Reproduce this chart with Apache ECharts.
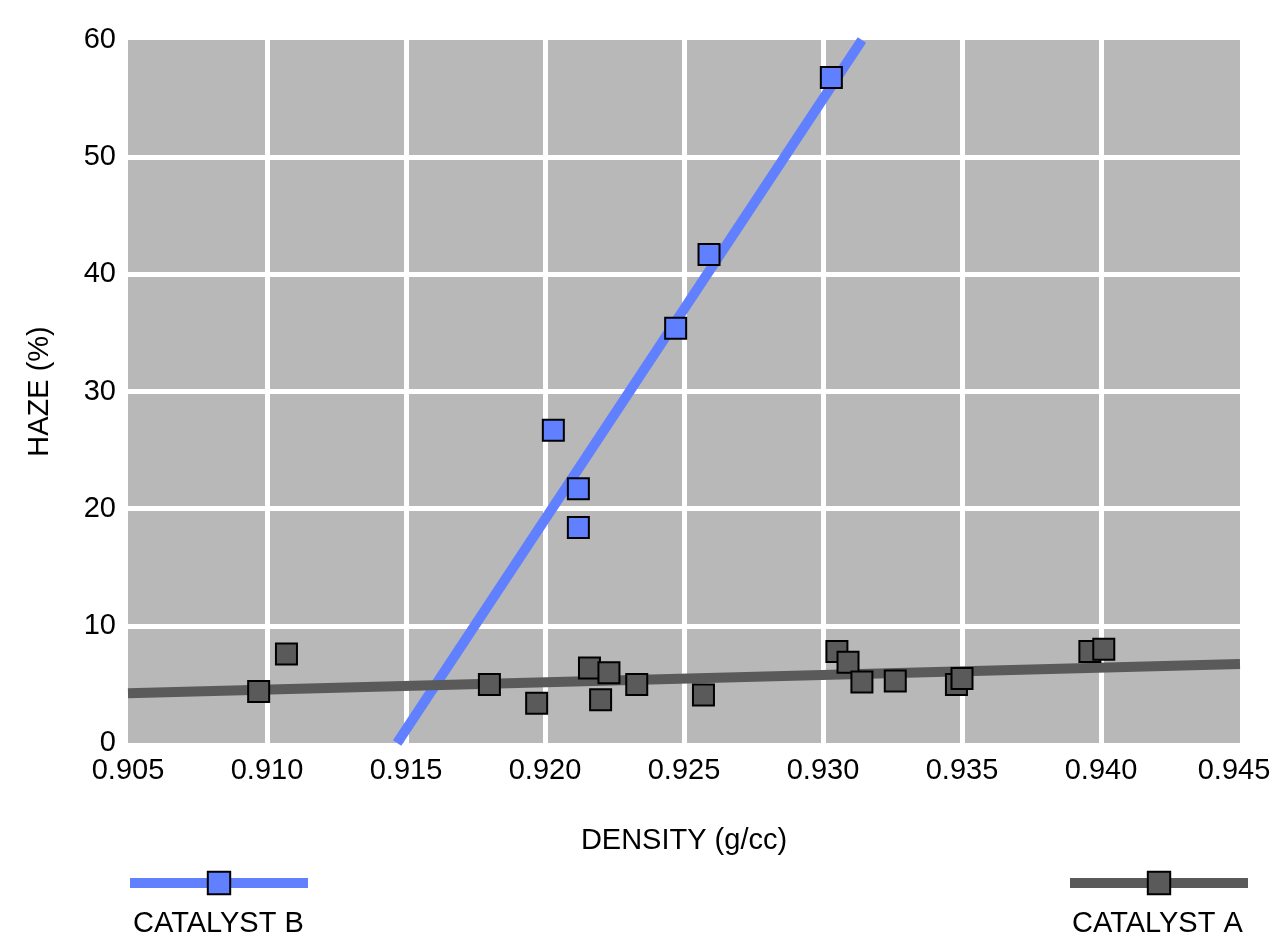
<!DOCTYPE html>
<html>
<head>
<meta charset="utf-8">
<script src="https://cdn.jsdelivr.net/npm/echarts@6/dist/echarts.min.js"></script>
<style>
html,body{margin:0;padding:0;background:#fff;}
#chart{width:1272px;height:938px;}
</style>
</head>
<body>
<div id="chart"></div>
<script>
// Catalyst B measured points [density, haze]
var catalystBDensity = [0.9203, 0.9212, 0.9212, 0.9247, 0.9259, 0.9303];
var catalystBHaze    = [26.7, 21.7, 18.4, 35.4, 41.7, 56.8];
// Catalyst B fit line endpoints
var catalystBFitDensity = [0.91468, 0.9314];
var catalystBFitHaze    = [0, 60];

// Catalyst A measured points
var catalystADensity = [0.9097, 0.9107, 0.9180, 0.9197, 0.9216, 0.9223, 0.9220, 0.9233, 0.9257, 0.9305, 0.9309, 0.9314, 0.9326, 0.9348, 0.9350, 0.9396, 0.9401];
var catalystAHaze    = [4.4, 7.6, 5.0, 3.4, 6.4, 6.0, 3.7, 5.0, 4.1, 7.8, 6.9, 5.2, 5.3, 5.0, 5.5, 7.8, 8.0];
// Catalyst A fit line endpoints
var catalystAFitDensity = [0.905, 0.945];
var catalystAFitHaze    = [4.25, 6.75];

var seriesNames = ['CATALYST B', 'CATALYST A'];
var xTitle = 'DENSITY (g/cc)';
var yTitle = 'HAZE (%)';
var xMin = 0.905, xMax = 0.945, xStep = 0.005;
var yMin = 0, yMax = 60, yStep = 10;

function pairs(xs, ys) { return xs.map(function (x, i) { return [x, ys[i]]; }); }

var blue = '#6080ff';
var gray = '#5a5a5a';
var font = "'Liberation Sans', Arial, sans-serif";
var fs = 29;

var chart = echarts.init(document.getElementById('chart'), null, {renderer: 'canvas'});
chart.setOption({
  animation: false,
  backgroundColor: '#ffffff',
  grid: {left: 128, right: 32, top: 40, bottom: 195, show: true, backgroundColor: '#b8b8b8', borderWidth: 0, outerBoundsMode: 'none', containLabel: false},
  xAxis: {
    type: 'value', min: xMin, max: xMax, interval: xStep,
    name: xTitle, nameLocation: 'middle', nameGap: 83,
    nameTextStyle: {color: '#000', fontSize: fs, fontFamily: font},
    axisLine: {show: false}, axisTick: {show: false},
    axisLabel: {
      color: '#000', fontSize: fs, fontFamily: font, margin: 13,
      formatter: function (v) {
        var s = v.toFixed(3);
        return Math.abs(v - xMax) < 1e-9 ? '{last|' + s + '}' : s;
      },
      rich: {last: {color: '#000', fontSize: fs, fontFamily: font, padding: [0, 12, 0, 0]}}
    },
    splitLine: {show: true, showMinLine: false, showMaxLine: false, lineStyle: {color: '#ffffff', width: 5}}
  },
  yAxis: {
    type: 'value', min: yMin, max: yMax, interval: yStep,
    name: yTitle, nameLocation: 'middle', nameGap: 74, nameRotate: 90,
    nameTextStyle: {color: '#000', fontSize: fs, fontFamily: font},
    axisLine: {show: false}, axisTick: {show: false},
    axisLabel: {color: '#000', fontSize: fs, fontFamily: font, margin: 12},
    splitLine: {show: true, showMinLine: false, showMaxLine: false, lineStyle: {color: '#ffffff', width: 5}}
  },
  legend: [
    {data: [seriesNames[0]], left: 125, top: 869, itemWidth: 178, itemHeight: 28, formatter: function () { return ''; }, selectedMode: false, padding: 0, itemGap: 0, lineStyle: {width: 10}},
    {data: [seriesNames[1]], left: 1065, top: 869, itemWidth: 178, itemHeight: 28, formatter: function () { return ''; }, selectedMode: false, padding: 0, itemGap: 0, lineStyle: {width: 10}}
  ],
  graphic: [
    {type: 'text', left: 133, top: 909, style: {text: seriesNames[0], fill: '#000', font: fs + 'px ' + font}},
    {type: 'text', left: 1072, top: 909, style: {text: seriesNames[1], fill: '#000', font: fs + 'px ' + font}}
  ],
  series: [
    {
      name: seriesNames[0], type: 'line', data: pairs(catalystBFitDensity, catalystBFitHaze),
      symbol: 'rect', showSymbol: false, z: 2, silent: true,
      lineStyle: {color: blue, width: 10},
      itemStyle: {color: blue, borderColor: '#000', borderWidth: 2}
    },
    {
      name: seriesNames[1], type: 'line', data: pairs(catalystAFitDensity, catalystAFitHaze),
      symbol: 'rect', showSymbol: false, z: 3, silent: true,
      lineStyle: {color: gray, width: 10},
      itemStyle: {color: gray, borderColor: '#000', borderWidth: 2}
    },
    {
      name: seriesNames[0], type: 'scatter', data: pairs(catalystBDensity, catalystBHaze),
      symbol: 'rect', symbolSize: 21, z: 4,
      itemStyle: {color: blue, borderColor: '#000', borderWidth: 2, opacity: 1}
    },
    {
      name: seriesNames[1], type: 'scatter', data: pairs(catalystADensity, catalystAHaze),
      symbol: 'rect', symbolSize: 21, z: 4,
      itemStyle: {color: gray, borderColor: '#000', borderWidth: 2, opacity: 1}
    }
  ]
});
</script>
</body>
</html>
